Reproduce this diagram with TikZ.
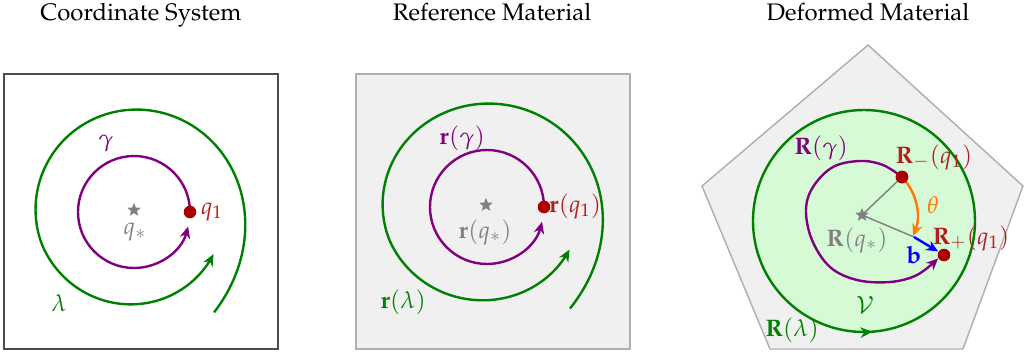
\documentclass[tikz,border=0pt]{standalone}
\usepackage[T1]{fontenc}
\usepackage{amsmath,amssymb}
\usepackage{mathpazo}
\usepackage{xcolor}
\usepackage{tikz}
\usetikzlibrary{arrows.meta,shapes.geometric,calc,decorations.markings}
\definecolor{curvepurple}{RGB}{128,0,128}
\definecolor{curvegreen}{RGB}{0,128,0}
\definecolor{pointred}{RGB}{170,0,0}
\definecolor{labelred}{RGB}{180,30,30}
\definecolor{angleorange}{RGB}{255,120,0}
\definecolor{vecblue}{RGB}{0,0,255}
\definecolor{paneledge}{RGB}{175,175,175}
\definecolor{panelfill}{RGB}{240,240,240}
\definecolor{vfill}{RGB}{214,250,214}
\tikzset{
  declare function={lamr(\t)=98+32*exp(-(\t+52)/55)-0.054*max(0,\t-200);},
  paneltitle/.style={anchor=base, font=\normalsize},
  plainpanel/.style={draw=black!70, line width=0.6pt},
  refpanel/.style={draw=paneledge, fill=panelfill, line width=0.6pt},
  tip/.style={-{Stealth[length=5pt, width=4.4pt]}},
  gammacurve/.style={tip, curvepurple, line width=1pt},
  lambdacurve/.style={tip, curvegreen, line width=1pt},
  dot/.style={circle, fill=pointred, inner sep=0pt, minimum size=0.185cm},
  fixedpt/.style={star, star points=5, star point ratio=2.3, fill=gray,
                  inner sep=0pt, minimum size=0.21cm},
  spoke/.style={gray, line width=0.6pt},
  thetaarrow/.style={tip, angleorange, line width=1pt},
  burgers/.style={tip, vecblue, line width=1pt},
}
% spiral around the fixed point (relative to the star)
\newcommand{\lambdaspiral}{plot[domain=-52:331, samples=90, smooth]
  ({lamr(\x)*cos(\x)}, {-lamr(\x)*sin(\x)})}

\begin{document}
\begin{tikzpicture}[x=0.0147cm, y=-0.0147cm]
  \useasboundingbox (0,0) rectangle (1024,358);

  % Coordinate system
  \node[paneltitle] (T1) at (141,20) {Coordinate System};
  \draw[plainpanel] (4,74) rectangle (278,349);
  \draw[lambdacurve, shift={(134,210)}] \lambdaspiral;
  \node[fixedpt] (S1) at (134,210) {};
  \draw[gammacurve] (190,212) arc[start angle=0, end angle=-345, radius=56];
  \node[dot] (Q1) at (190,212) {};
  \node[curvepurple] (G1) at (106,143) {$\gamma$};
  \node[labelred] (L1) at (212,212) {$q_1$};
  \node[gray] (C1) at (135,232) {$q_*$};
  \node[curvegreen] (Lam1) at (59,303) {$\lambda$};

  % Reference material
  \node[paneltitle] (T2) at (492,20) {Reference Material};
  \draw[refpanel] (356,74) rectangle (630,349);
  \draw[lambdacurve, shift={(486,205)}, xscale=1.05, yscale=1.01] \lambdaspiral;
  \node[fixedpt] (S2) at (486,205) {};
  \draw[gammacurve] (544,207) arc[start angle=0, end angle=-345, radius=57];
  \node[dot] (Q2) at (544,207) {};
  \node[curvepurple] (G2) at (462,138) {$\mathbf{r}(\gamma)$};
  \node[labelred] (L2) at (575,206) {$\mathbf{r}(q_1)$};
  \node[gray] (C2) at (485,232) {$\mathbf{r}(q_*)$};
  \node[curvegreen] (Lam2) at (403,302) {$\mathbf{r}(\lambda)$};

  % Deformed material
  \node[paneltitle] (T3) at (868,20) {Deformed Material};
  \draw[refpanel] (868,45) -- (1023,186) -- (963,349) -- (770,349) -- (702,186) -- cycle;
  \filldraw[fill=vfill, draw=curvegreen, line width=1pt, postaction={decorate},
    decoration={markings, mark=at position 0.012 with {\arrow{Stealth[length=5pt, width=4.4pt]}}}]
    (864,332) arc[start angle=90, end angle=-270, radius=111];
  \node[fixedpt] (S3) at (862,215) {};
  \coordinate (qm) at (902,177);
  \coordinate (Gend) at (914,237);
  \draw[spoke] (S3.center) -- (Gend);
  \draw[thetaarrow] (qm) arc[start angle=-43.5, end angle=22.5, radius=55];
  \node[dot] (Qm) at (qm) {};
  \node[dot] (Qp) at (944,255) {};
  \draw[spoke] (S3.center) -- (Qm);
  \draw[gammacurve] plot[smooth, tension=0.6] coordinates {(902,177) (883,165) (860,161)
    (833,167) (813,187) (806,210) (812,240) (830,267) (857,280) (890,282) (917,275) (Qp.210)};
  \draw[burgers] (Gend) -- (Qp);
  \node[dot] at (qm) {};
  \node[curvepurple] (G3) at (821,148) {$\mathbf{R}(\gamma)$};
  \node[labelred] (Lm) at (934,157) {$\mathbf{R}_{-}(q_1)$};
  \node[angleorange] (Th) at (933,205) {$\theta$};
  \node[gray] (C3) at (857,240) {$\mathbf{R}(q_*)$};
  \node[vecblue] (B) at (914,255) {$\mathbf{b}$};
  \node[labelred] (Lp) at (971,238) {$\mathbf{R}_{+}(q_1)$};
  \node[curvegreen] (V) at (865,305) {$\mathcal{V}$};
  \node[curvegreen] (Lam3) at (792,330) {$\mathbf{R}(\lambda)$};
\end{tikzpicture}
\end{document}
